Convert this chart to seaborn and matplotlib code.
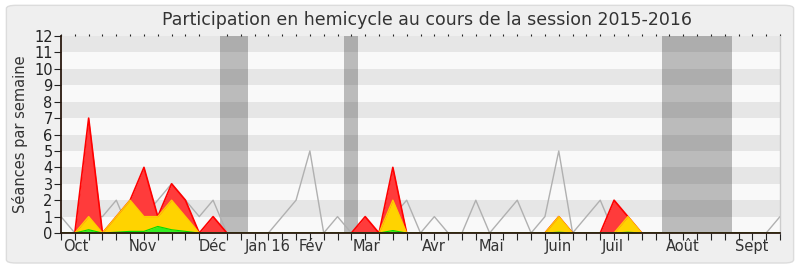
import numpy as np
import pandas as pd
import matplotlib
matplotlib.use("Agg")
import matplotlib.pyplot as plt
from matplotlib.patches import FancyBboxPatch
import seaborn as sns

# Weekly counts over the 2015-2016 session (week index 0..52)
weeks = list(range(53))
hemicycle_total = [1, 0, 1, 1, 2, 0, 1, 2, 3, 2, 1, 2, 0, 0, 0, 0, 1, 2, 5, 0,
                   1, 0, 0, 0, 1, 2, 0, 1, 0, 0, 2, 0, 1, 2, 0, 1, 5, 0, 1, 2,
                   0, 0, 0, 0, 0, 0, 0, 0, 0, 0, 0, 0, 1]
presence = [0, 0, 7, 0, 1, 2, 4, 1, 3, 2, 0, 1, 0, 0, 0, 0, 0, 0, 0, 0,
            0, 0, 1, 0, 4, 0, 0, 0, 0, 0, 0, 0, 0, 0, 0, 0, 1, 0, 0, 0,
            2, 1, 0, 0, 0, 0, 0, 0, 0, 0, 0, 0, 0]
interventions = [0, 0, 1, 0, 1, 2, 1, 1, 2, 1, 0, 0, 0, 0, 0, 0, 0, 0, 0, 0,
                 0, 0, 0, 0, 2, 0, 0, 0, 0, 0, 0, 0, 0, 0, 0, 0, 1, 0, 0, 0,
                 0, 1, 0, 0, 0, 0, 0, 0, 0, 0, 0, 0, 0]
votes = [0, 0, 0.2, 0, 0.05, 0.1, 0.1, 0.4, 0.2, 0.1, 0, 0, 0, 0, 0, 0, 0, 0, 0, 0,
         0, 0, 0, 0, 0.15, 0, 0, 0, 0, 0, 0, 0, 0, 0, 0, 0, 0.05, 0, 0, 0,
         0, 0.05, 0, 0, 0, 0, 0, 0, 0, 0, 0, 0, 0]

# Parliamentary recess periods (week ranges)
recess_start = [11.5, 20.5, 43.5]
recess_end = [13.5, 21.5, 48.5]

month_labels = ["Oct", "Nov", "Déc", "Jan 16", "Fév", "Mar", "Avr", "Mai",
                "Juin", "Juil", "Août", "Sept"]
month_pos = [1.1, 5.95, 11.0, 14.93, 18.1, 22.1, 26.97, 31.16, 35.94, 39.9,
             44.97, 49.96]

df = pd.DataFrame({"week": weeks, "total": hemicycle_total, "presence": presence,
                   "interventions": interventions, "votes": votes})

sns.set_style("white")
plt.rcParams["font.family"] = ["DejaVu Sans"]

fig = plt.figure(figsize=(8, 2.67), dpi=100)
fig.patch.set_facecolor("white")
fig.patches.append(FancyBboxPatch((0.008, 0.015), 0.984, 0.965,
                                  boxstyle="round,pad=0,rounding_size=0.012",
                                  transform=fig.transFigure, facecolor="#efefef",
                                  edgecolor="#dcdcdc", linewidth=1.0, zorder=-10))

ax = fig.add_axes([0.07625, 0.1273, 0.89875, 0.7377])
ax.set_facecolor("#f9f9f9")

for s, e in zip(recess_start, recess_end):
    ax.axvspan(s, e, color="#bbbbbb", lw=0, zorder=0.5)
for y0 in range(1, 12, 2):
    ax.axhspan(y0, y0 + 1, color="black", alpha=0.075, lw=0, zorder=0.6)

sns.lineplot(data=df, x="week", y="total", ax=ax, color="#b0b0b0", lw=1.0, zorder=1)

ax.fill_between(df["week"], df["presence"], color="#ff3b3b", lw=0, zorder=2)
sns.lineplot(data=df, x="week", y="presence", ax=ax, color="#ff0000", lw=1.2, zorder=2.1)
ax.fill_between(df["week"], df["interventions"], color="#ffd300", lw=0, zorder=3)
sns.lineplot(data=df, x="week", y="interventions", ax=ax, color="#ffcc00", lw=1.0, zorder=3.1)
ax.fill_between(df["week"], df["votes"], color="#33ee22", lw=0, zorder=4)
sns.lineplot(data=df, x="week", y="votes", ax=ax, color="#00dd00", lw=0.8, zorder=4.1)

ax.set_xlim(0, 52)
ax.set_ylim(0, 12)
ax.set_yticks(range(0, 13))
ax.set_xticks(month_pos)
ax.set_xticklabels(month_labels)
ax.set_xticks(weeks, minor=True)
ax.tick_params(axis="x", which="major", length=0, pad=4, labelsize=10.5, colors="#333333")
ax.tick_params(axis="x", which="minor", bottom=True, top=True, direction="out",
               length=5, width=0.8, color="#222222")
ax.tick_params(axis="y", which="major", left=True, direction="out", length=5,
               width=0.8, labelsize=10.5, colors="#333333", pad=1)
ax.tick_params(axis="y", colors="#222222")
ax.set_xlabel("")
ax.set_ylabel("Séances par semaine", fontsize=10.5, color="#333333", labelpad=4)

for side in ["left", "bottom"]:
    ax.spines[side].set_color("#2a1a10")
    ax.spines[side].set_linewidth(1.3)
    ax.spines[side].set_zorder(10)
ax.spines["top"].set_visible(False)
ax.spines["right"].set_color("#cccccc")
ax.spines["right"].set_linewidth(1.0)

# small dots along the top edge, one per week
for t in ax.xaxis.get_minor_ticks():
    t.tick2line.set_markersize(1.2)
    t.tick2line.set_markeredgewidth(0.8)
    t.tick2line.set_color("#444444")

fig.text(0.534, 0.925, "Participation en hemicycle au cours de la session 2015-2016",
         ha="center", va="center", fontsize=12.5, color="#333333")

fig.savefig("out.png", dpi=100, facecolor=fig.get_facecolor())
